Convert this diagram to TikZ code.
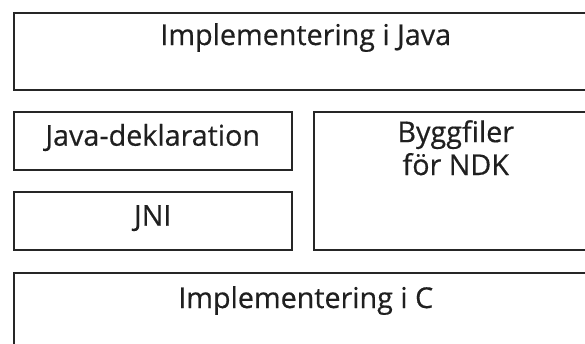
\documentclass[tikz,border=0pt]{standalone}
\usepackage{fontspec}
\setmainfont{Open Sans}
\newfontfamily\etikettfont{Open Sans}[FakeBold=0.5]

\tikzset{
  blokk/.style={draw=black!85, line width=1.5pt, anchor=north west, inner sep=0pt},
  etikett/.style={text=black!88, font=\etikettfont\fontsize{28.7}{27}\selectfont, inner sep=0pt, align=center}
}

\begin{document}
\begin{tikzpicture}[x=1pt,y=-1pt]
\clip (0,0) rectangle (585,343);
% box: name, left, top, width, height
\newcommand{\blokk}[5]{
  \node[blokk, minimum width=#4pt, minimum height=#5pt] (#1) at (#2,#3) {};
}

% the layers, top to bottom
\blokk{javaimpl}{13}{12}{584}{77}
\blokk{javadekl}{13}{111}{278}{58}
\blokk{jni}{13}{191}{278}{58}
\blokk{bygg}{313}{111}{284}{138}
\blokk{cimpl}{13}{272}{584}{90}

% labels, set a little below the top edge
\node[etikett, anchor=base] (javaimpltxt) at ([yshift=-33pt]javaimpl.north) {Implementering i Java};
\node[etikett, anchor=base] (javadekltxt) at ([yshift=-34.7pt]javadekl.north) {Java-deklaration};
\node[etikett, anchor=base] (jnitxt) at ([yshift=-34.7pt]jni.north) {JNI};
\node[etikett, anchor=north] (byggtxt) at ([yshift=-9pt]bygg.north) {Byggfiler\\[3pt]för NDK};
\node[etikett, anchor=base] (cimpltxt) at ([yshift=-36pt]cimpl.north) {Implementering i C};
\end{tikzpicture}
\end{document}
